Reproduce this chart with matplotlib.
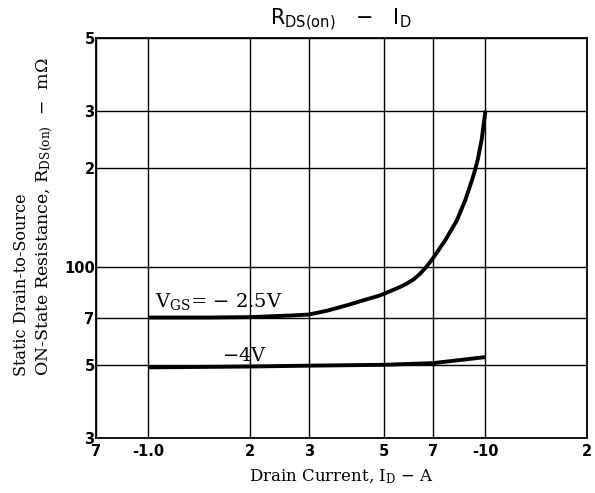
import matplotlib
matplotlib.use("Agg")
import matplotlib.pyplot as plt
from matplotlib.ticker import FixedLocator, FixedFormatter, NullLocator

plt.rcParams['mathtext.fontset'] = 'dejavuserif'
plt.rcParams['font.family'] = ['DejaVu Serif']

# Data (drain current magnitude in A, resistance in mOhm)
id_25 = [1.0, 1.5, 2.0, 2.64, 3.0, 3.4, 3.88, 4.34, 4.87, 5.5, 5.8, 6.12, 6.4, 6.68, 7.0, 7.6, 8.23, 8.71, 9.12, 9.33, 9.5, 9.75, 10.0]
r_25  = [70.0, 70.0, 70.2, 71.0, 71.5, 73.5, 76.3, 79.0, 81.8, 86.2, 88.5, 91.5, 95.3, 100.0, 106.5, 120.6, 138.8, 159.8, 184.0, 199.0, 214.0, 246.0, 300.0]

id_4 = [1.0, 2.0, 3.0, 5.0, 7.0, 10.0]
r_4  = [49.3, 49.6, 49.9, 50.2, 50.8, 53.0]

x_ticks = [0.7, 1, 2, 3, 5, 7, 10, 20]
x_labels = ['7', '-1.0', '2', '3', '5', '7', '-10', '2']
y_ticks = [30, 50, 70, 100, 200, 300, 500]
y_labels = ['3', '5', '7', '100', '2', '3', '5']

fig = plt.figure(figsize=(5.95, 4.93), dpi=100)
ax = fig.add_axes([96/595, 1-438/493, (587-96)/595, (438-38)/493])
ax.set_xscale('log')
ax.set_yscale('log')
ax.set_xlim(0.7, 20)
ax.set_ylim(30, 500)

ax.xaxis.set_major_locator(FixedLocator(x_ticks))
ax.xaxis.set_major_formatter(FixedFormatter(x_labels))
ax.xaxis.set_minor_locator(NullLocator())
ax.yaxis.set_major_locator(FixedLocator(y_ticks))
ax.yaxis.set_major_formatter(FixedFormatter(y_labels))
ax.yaxis.set_minor_locator(NullLocator())
ax.tick_params(length=0, pad=4)
ax.tick_params(axis='y', pad=1)
for lab in ax.get_xticklabels() + ax.get_yticklabels():
    lab.set_family('DejaVu Sans')
    lab.set_fontweight('bold')
    lab.set_fontsize(10.5)

ax.grid(True, color='black', linewidth=1.0)
for s in ax.spines.values():
    s.set_linewidth(1.3)

ax.plot(id_25, r_25, color='black', linewidth=2.8, solid_capstyle='butt', solid_joinstyle='round')
ax.plot(id_4, r_4, color='black', linewidth=2.8, solid_capstyle='butt', solid_joinstyle='round')

ax.text(1.05, 75.3, r'V$_{\rm GS}$= $-$ 2.5V', fontsize=14, ha='left', va='baseline')
ax.text(1.66, 51.4, r'$-$4V', fontsize=14, ha='left', va='baseline')

fig.text(341/595, 1-20/493, r'$\mathsf{R_{DS(on)}}$   $\mathsf{-}$   $\mathsf{I_D}$',
         fontsize=15, ha='center', va='center', family='DejaVu Sans')

fig.text(341/595, 1-477/493, r'Drain Current, I$_{\rm D}$ $-$ A', fontsize=12,
         ha='center', va='center')
fig.text(22/595, 1-376/493, 'Static Drain-to-Source', fontsize=11.5, rotation=90,
         ha='center', va='bottom')
fig.text(45/595, 1-376/493, r'ON-State Resistance, R$_{\rm DS(on)}$  $-$  m$\Omega$', fontsize=12.5,
         rotation=90, ha='center', va='bottom')

fig.savefig('out.png', dpi=100)
